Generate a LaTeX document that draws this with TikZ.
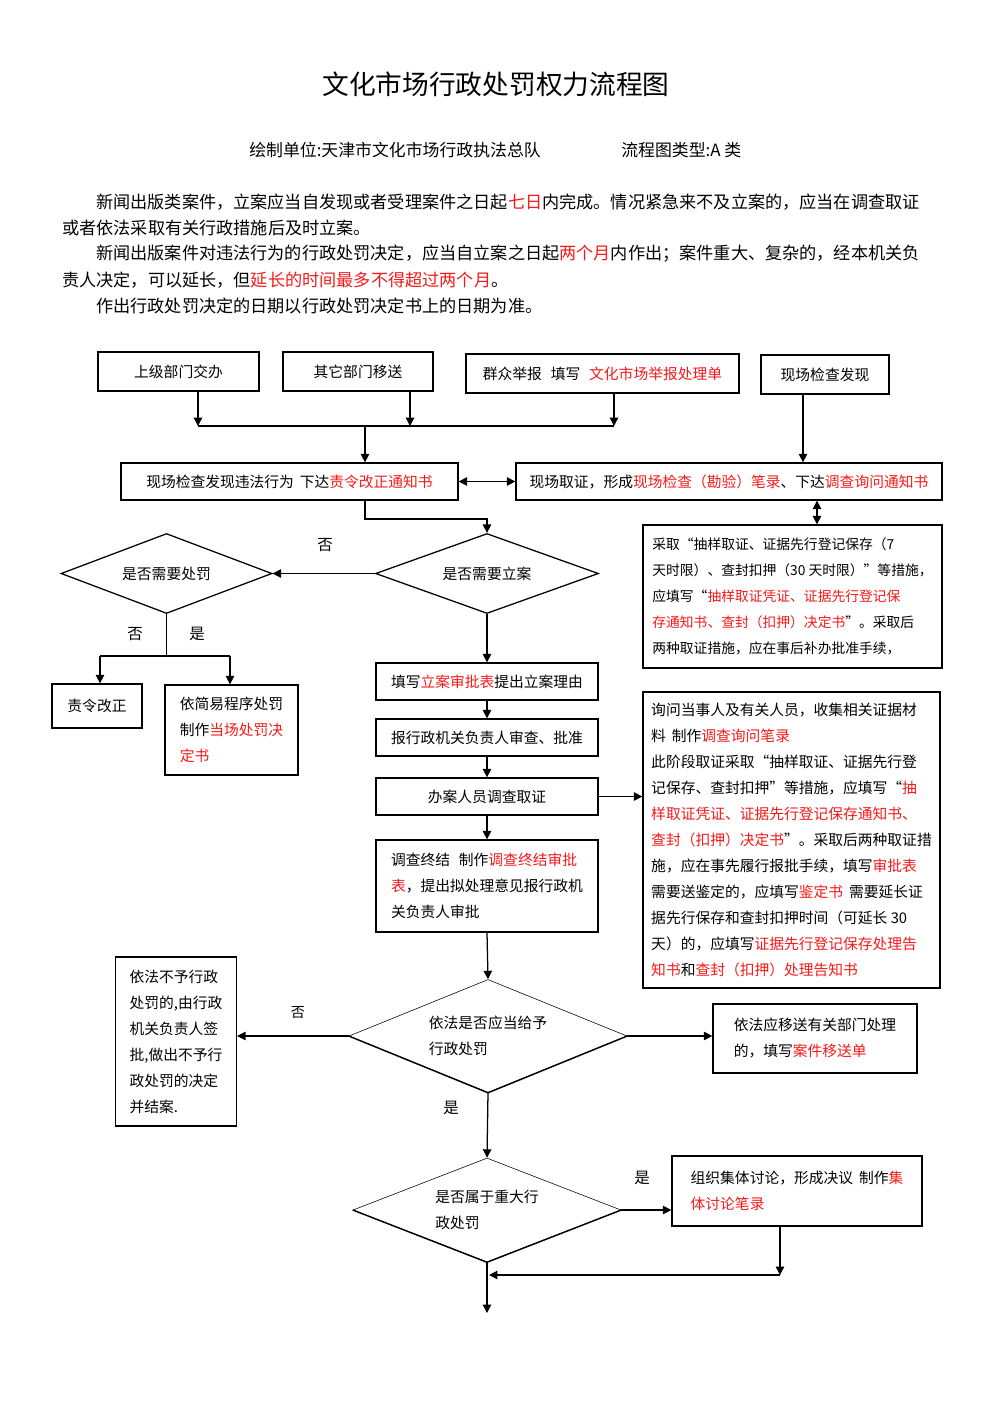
\documentclass[tikz,border=0pt]{standalone}
\usepackage{fontspec}
\setmainfont{Noto Sans CJK SC}
\usetikzlibrary{arrows.meta,shapes.geometric}
\definecolor{redword}{RGB}{245,25,25}
\newcommand{\rw}[1]{\textcolor{redword}{#1}}

\begin{document}
\begin{tikzpicture}[x=0.025cm, y=-0.025cm,
    box/.style={draw, line width=0.9pt, inner sep=0pt, align=left,
      font=\fontsize{10.5}{18.5}\selectfont},
    dia/.style={draw, diamond, inner sep=0pt, align=left,
      font=\fontsize{10.5}{18.5}\selectfont},
    arr/.style={line width=0.9pt, -{Triangle[length=6pt,width=6pt]}},
    arr2/.style={line width=0.9pt,
      {Triangle[length=6pt,width=6pt]}-{Triangle[length=6pt,width=6pt]}},
    lab/.style={inner sep=0pt, font=\fontsize{11}{13}\selectfont},
    txt/.style={anchor=west, inner sep=0pt, font=\fontsize{12.2}{14}\selectfont}]
  \def\px{0.025cm}
  \useasboundingbox (0,0) rectangle (992,1403);

  % heading
  \node[inner sep=0pt, font=\fontsize{19}{22}\selectfont] (title) at (496,84) {文化市场行政处罚权力流程图};
  \node[txt, font=\fontsize{12}{14}\selectfont] (unit) at (249,150) {绘制单位:天津市文化市场行政执法总队};
  \node[txt, font=\fontsize{12}{14}\selectfont] (kind) at (621,150) {流程图类型:A 类};
  \node[txt] (p1) at (96,202) {新闻出版类案件，立案应当自发现或者受理案件之日起\rw{七日}内完成。情况紧急来不及立案的，应当在调查取证};
  \node[txt] (p2) at (62,228) {或者依法采取有关行政措施后及时立案。};
  \node[txt] (p3) at (96,254) {新闻出版案件对违法行为的行政处罚决定，应当自立案之日起\rw{两个月}内作出；案件重大、复杂的，经本机关负};
  \node[txt] (p4) at (62,280) {责人决定，可以延长，但\rw{延长的时间最多不得超过两个月}。};
  \node[txt] (p5) at (96,306) {作出行政处罚决定的日期以行政处罚决定书上的日期为准。};

  % sources
  \node[box, minimum width=161*\px, minimum height=39*\px] (A) at (178.5,371.5) {上级部门交办};
  \node[box, minimum width=150*\px, minimum height=39*\px] (B) at (358,371.5) {其它部门移送};
  \node[box, minimum width=273*\px, minimum height=39*\px] (C) at (602.5,373.5) {群众举报\hspace{0.6em}填写\hspace{0.6em}\rw{文化市场举报处理单}};
  \node[box, minimum width=128*\px, minimum height=39*\px] (D) at (825,374.5) {现场检查发现};
  \coordinate (a1) at (198,426);
  \coordinate (b1) at (410,426);
  \coordinate (c1) at (614,426);
  \coordinate (m1) at (365,426);
  \coordinate (d1) at (803,430);
  \draw[arr] (A.south -| a1) -- (a1);
  \draw[arr] (B.south -| b1) -- (b1);
  \draw[arr] (C.south -| c1) -- (c1);
  \draw[line width=0.9pt] (a1) -- (c1);

  % on the spot
  \node[box, minimum width=337*\px, minimum height=37*\px] (E) at (289.5,481.5) {现场检查发现违法行为\hspace{0.4em}下达\rw{责令改正通知书}};
  \node[box, minimum width=426*\px, minimum height=37*\px] (F) at (729,481.5) {现场取证，形成\rw{现场检查（勘验）笔录}、下达\rw{调查询问通知书}};
  \node[box, minimum width=299*\px, minimum height=143*\px, font=\fontsize{9.8}{18.5}\selectfont] (G) at (792.5,596.5) {采取“抽样取证、证据先行登记保存（7\\天时限）、查封扣押（30 天时限）”等措施，\\应填写“\rw{抽样取证凭证、证据先行登记保}\\\rw{存通知书、查封（扣押）决定书}”。采取后\\两种取证措施，应在事后补办批准手续，};
  \draw[arr] (m1) -- (m1 |- E.north);
  \draw[arr] (D.south -| d1) -- (d1 |- F.north);
  \draw[arr2] (E.east) -- (F.west);
  \coordinate (g1) at (817,510);
  \draw[arr2] (F.south -| g1) -- (G.north -| g1);

  % register or not
  \node[dia, line width=0.9pt, aspect=2.8, minimum width=223*\px, minimum height=80*\px] (H) at (487,573.5) {是否需要立案};
  \node[dia, line width=0.9pt, aspect=2.6, minimum width=211*\px, minimum height=80*\px] (I) at (166.5,573.5) {是否需要处罚};
  \coordinate (k1) at (365,519);
  \coordinate (k2) at (487,519);
  \draw[arr] (E.south -| k1) -- (k1) -- (k2) -- (H.north);
  \draw[arr] (H.west) -- (I.east);
  \node[lab] (no1) at (325,545) {否};

  \node[box, minimum width=90*\px, minimum height=44*\px] (J) at (97,706) {责令改正};
  \node[box, minimum width=133*\px, minimum height=90*\px] (K) at (231.5,730) {依简易程序处罚\\制作\rw{当场处罚决}\\\rw{定书}};
  \coordinate (i1) at (166.5,656);
  \coordinate (i2) at (100,656);
  \coordinate (i3) at (230,656);
  \draw[line width=0.9pt] (I.south) -- (i1);
  \draw[line width=0.9pt] (i2) -- (i3);
  \draw[arr] (i2) -- (i2 |- J.north);
  \draw[arr] (i3) -- (i3 |- K.north);
  \node[lab] (no2) at (135,634) {否};
  \node[lab] (yes1) at (197,634) {是};

  % main column
  \node[box, minimum width=222*\px, minimum height=37*\px] (L) at (487,681.5) {填写\rw{立案审批表}提出立案理由};
  \node[box, minimum width=222*\px, minimum height=37*\px] (M) at (487,737.5) {报行政机关负责人审查、批准};
  \node[box, minimum width=222*\px, minimum height=37*\px] (N) at (487,796.5) {办案人员调查取证};
  \node[box, minimum width=222*\px, minimum height=92*\px] (O) at (487,886) {调查终结\hspace{0.6em}制作\rw{调查终结审批}\\\rw{表}，提出拟处理意见报行政机\\关负责人审批};
  \draw[arr] (H.south) -- (L.north);
  \draw[arr] (L.south) -- (M.north);
  \draw[arr] (M.south) -- (N.north);
  \draw[arr] (N.south) -- (O.north);

  \node[box, minimum width=297*\px, minimum height=296*\px] (P) at (791.5,840) {询问当事人及有关人员，收集相关证据材\\料\hspace{0.4em}制作\rw{调查询问笔录}\\此阶段取证采取“抽样取证、证据先行登\\记保存、查封扣押”等措施，应填写“\rw{抽}\\\rw{样取证凭证、证据先行登记保存通知书、}\\\rw{查封（扣押）决定书}”。采取后两种取证措\\施，应在事先履行报批手续，填写\rw{审批表}\\需要送鉴定的，应填写\rw{鉴定书}\hspace{0.4em}需要延长证\\据先行保存和查封扣押时间（可延长 30\\天）的，应填写\rw{证据先行登记保存处理告}\\\rw{知书}和\rw{查封（扣押）处理告知书}};
  \draw[arr] (N.east) -- (N.east -| P.west);

  % decision
  \node[dia, line width=0.4pt, aspect=2.46, minimum width=278*\px, minimum height=113*\px] (Q) at (488,1036) {依法是否应当给予\\行政处罚};
  \draw[line width=1pt] (Q.west) -- (Q.south) -- (Q.east);
  \draw[arr] (O.south) -- (Q.north);
  \node[box, minimum width=121*\px, minimum height=169*\px] (R) at (176,1041.5) {依法不予行政\\处罚的,由行政\\机关负责人签\\批,做出不予行\\政处罚的决定\\并结案.};
  \node[box, minimum width=204*\px, minimum height=69*\px] (S) at (815,1038.5) {依法应移送有关部门处理\\的，填写\rw{案件移送单}};
  \draw[arr] (Q.west) -- (Q.west -| R.east);
  \draw[arr] (Q.east) -- (Q.east -| S.west);
  \node[lab, font=\fontsize{10}{12}\selectfont] (no3) at (298,1013) {否};

  \node[dia, line width=0.4pt, aspect=2.58, minimum width=268*\px, minimum height=104*\px] (T) at (487,1210) {是否属于重大行\\政处罚};
  \draw[line width=1pt] (T.west) -- (T.south) -- (T.east);
  \draw[arr] (Q.south) -- (T.north);
  \node[lab] (yes2) at (451,1108) {是};

  \node[box, minimum width=250*\px, minimum height=70*\px] (U) at (797,1191) {组织集体讨论，形成决议\hspace{0.4em}制作\rw{集}\\\rw{体讨论笔录}};
  \draw[arr] (T.east) -- (T.east -| U.west);
  \node[lab] (yes3) at (642,1178) {是};
  \coordinate (u1) at (780,1275);
  \coordinate (u2) at (489,1275);
  \coordinate (t1) at (487,1313);
  \draw[arr] (U.south -| u1) -- (u1);
  \draw[arr] (u1) -- (u2);
  \draw[arr] (T.south) -- (t1);
\end{tikzpicture}
\end{document}
